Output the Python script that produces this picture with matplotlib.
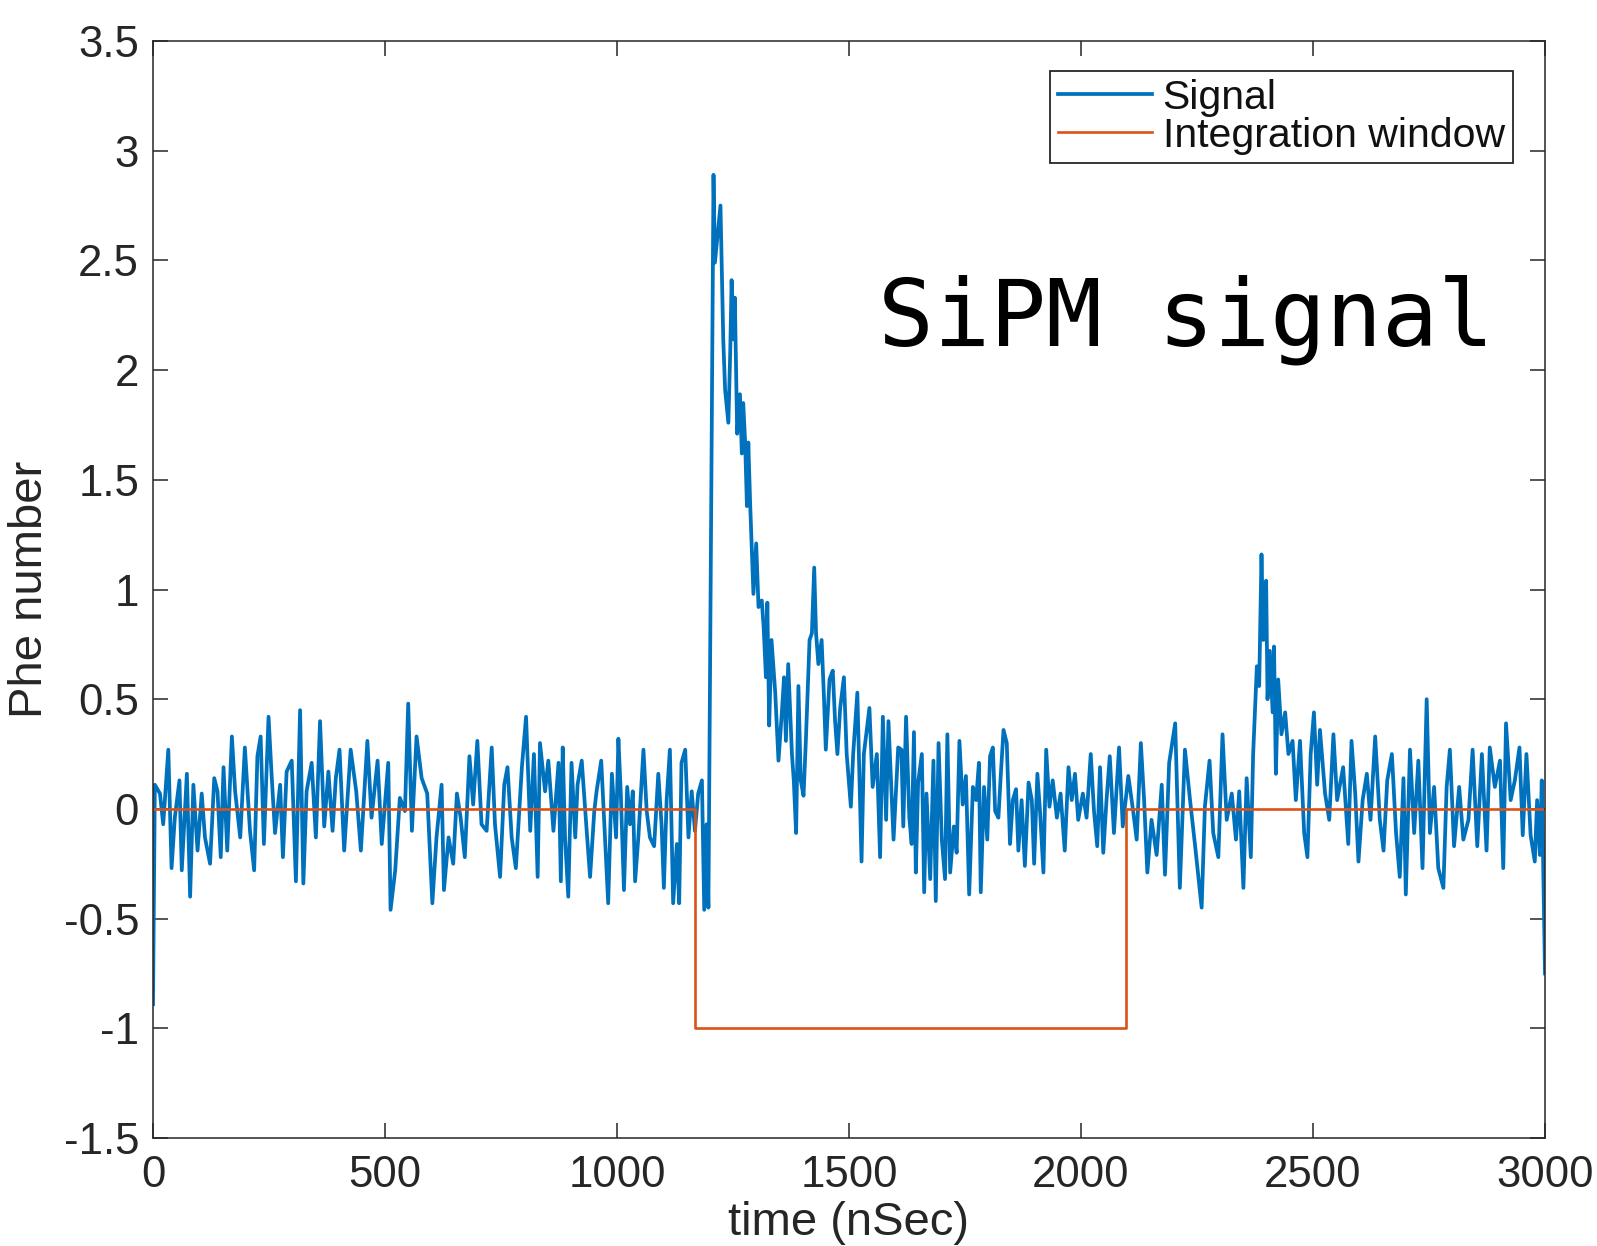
import numpy as np
import matplotlib
matplotlib.use('Agg')
import matplotlib.pyplot as plt

# signal trace (time in nSec, Phe number)
time_a = [0, 4, 15, 22, 33, 40, 47, 57, 62, 73, 80, 87, 96, 105, 112, 123, 132, 139, 146, 152,
          160, 170, 177, 188, 198, 209, 218, 225, 232, 239, 249, 256, 263, 274, 280, 288, 299, 308, 317, 324,
          331, 342, 351, 360, 369, 378, 387, 394, 402, 412, 426, 438, 448, 462, 471, 484, 493, 507, 512, 522,
          532, 543, 550, 558, 568, 579, 591, 602, 611, 622, 627, 637, 647, 655, 663, 672, 682, 690, 699, 708,
          719, 730, 737, 748, 757, 764, 773, 782, 795, 804, 813, 821, 829, 834, 845, 852, 863]
phe_a = [-0.89, 0.11, 0.07, -0.07, 0.27, -0.27, -0.04, 0.13, -0.28, 0.16, -0.40, 0.11, -0.19, 0.07, -0.13, -0.25, 0.14, 0.08, -0.22, 0.19,
         -0.19, 0.33, 0.08, -0.13, 0.28, -0.10, -0.28, 0.24, 0.33, -0.16, 0.42, 0.14, -0.11, 0.11, -0.22, 0.17, 0.22, -0.33, 0.45, -0.34,
         0.08, 0.21, -0.13, 0.40, -0.08, 0.17, -0.10, 0.14, 0.27, -0.19, 0.27, 0.08, -0.19, 0.31, -0.04, 0.22, -0.16, 0.21, -0.46, -0.28,
         0.05, -0.01, 0.48, -0.10, 0.33, 0.14, 0.07, -0.43, -0.13, 0.11, -0.37, -0.13, -0.25, 0.07, -0.04, -0.22, 0.24, 0.02, 0.31, -0.07,
         -0.10, 0.28, -0.07, -0.31, 0.11, 0.19, -0.13, -0.27, 0.19, 0.42, -0.10, 0.25, -0.31, 0.30, 0.08, 0.22, -0.10]

time_b = [874, 879, 883, 888, 895, 902, 910, 915, 924, 935, 942, 951, 956, 966, 972, 981, 989, 998, 1003, 1008,
          1015, 1022, 1028, 1034, 1039, 1046, 1057, 1064, 1071, 1080, 1089, 1096, 1101, 1107, 1114, 1121, 1129, 1134, 1139, 1147,
          1154, 1161, 1168, 1175, 1183, 1188, 1193, 1197]
phe_b = [0.21, -0.33, 0.28, -0.13, -0.40, 0.21, -0.13, 0.11, 0.22, -0.11, -0.31, -0.01, 0.08, 0.22, -0.04, -0.43, 0.16, -0.13, 0.32, 0.08,
         -0.37, 0.10, -0.07, 0.08, -0.33, -0.13, 0.27, -0.01, -0.13, -0.17, 0.16, -0.07, -0.36, 0.04, 0.27, -0.43, -0.16, -0.43, 0.21, 0.27,
         -0.13, 0.08, -0.10, 0.07, 0.13, -0.46, -0.07, -0.45]

# main pulse and its tail
time_c = [1208, 1211, 1218, 1223, 1229, 1233, 1240, 1244, 1247, 1251, 1254, 1259, 1265, 1269, 1272, 1276, 1280, 1283, 1287, 1290,
          1294, 1300, 1305, 1312, 1316, 1321, 1324, 1328, 1333, 1341, 1348, 1355, 1360, 1364, 1369, 1377, 1381, 1386, 1391, 1396,
          1402, 1407, 1415, 1420, 1425, 1429, 1434, 1441, 1446, 1450, 1458, 1465, 1470, 1475, 1481, 1489, 1495, 1504, 1509, 1518,
          1527, 1532, 1544, 1551, 1560, 1567, 1573, 1580, 1585, 1596, 1606]
phe_c = [2.89, 2.49, 2.64, 2.75, 2.14, 1.91, 1.76, 2.08, 2.41, 2.14, 2.33, 1.71, 1.89, 1.62, 1.85, 1.68, 1.38, 1.67, 1.39, 1.22,
         0.98, 1.21, 0.92, 0.95, 0.83, 0.60, 0.94, 0.38, 0.77, 0.53, 0.22, 0.43, 0.60, 0.31, 0.66, 0.25, 0.13, -0.11, 0.56, 0.13,
         0.06, 0.31, 0.77, 0.80, 1.10, 0.80, 0.66, 0.77, 0.51, 0.27, 0.59, 0.63, 0.40, 0.25, 0.46, 0.60, 0.25, 0.01, 0.25, 0.53,
         -0.24, 0.25, 0.46, 0.10, 0.25, -0.22, 0.42, -0.05, 0.40, -0.14, 0.28]

time_d = [1613, 1617, 1623, 1630, 1635, 1640, 1644, 1649, 1657, 1662, 1667, 1675, 1682, 1687, 1693, 1700, 1707, 1712, 1718, 1726,
          1732, 1738, 1745, 1752, 1759, 1767, 1774, 1780, 1784, 1791, 1798, 1804, 1810, 1815, 1822, 1827, 1833, 1840, 1847, 1853,
          1860, 1865, 1872, 1879, 1887, 1894, 1899, 1906, 1912, 1919, 1925, 1932, 1939, 1948, 1956, 1965, 1973, 1980, 1987, 1994,
          2004, 2012, 2021, 2028, 2035, 2041, 2048, 2055, 2062, 2071, 2082, 2090, 2102, 2113, 2120, 2129, 2136, 2143]
phe_d = [0.27, -0.08, 0.42, -0.04, -0.16, 0.35, -0.29, 0.12, 0.25, -0.38, 0.07, -0.32, 0.22, -0.42, 0.30, -0.14, -0.32, 0.34, -0.29, -0.08,
         -0.20, 0.31, 0.02, 0.15, -0.39, 0.10, 0.04, 0.21, -0.38, 0.10, -0.14, 0.24, 0.28, -0.01, -0.04, 0.15, 0.36, 0.30, -0.16, 0.04,
         0.09, -0.19, 0.04, -0.26, 0.12, 0.04, -0.25, 0.16, -0.02, -0.29, 0.27, 0.01, 0.13, -0.04, 0.07, -0.19, 0.19, 0.04, 0.16, -0.05,
         0.07, -0.04, 0.25, -0.01, -0.17, 0.19, -0.20, 0.04, 0.24, -0.11, 0.28, -0.08, 0.15, -0.02, -0.14, 0.30, 0.04, -0.29]

# second (afterpulse) bump and the end of the trace
time_e = [2152, 2163, 2174, 2181, 2190, 2203, 2213, 2224, 2235, 2246, 2260, 2267, 2277, 2285, 2296, 2305, 2314, 2325, 2334, 2341,
          2350, 2357, 2366, 2371, 2379, 2384, 2389, 2393, 2399, 2402, 2407, 2413, 2416, 2420, 2425, 2432, 2440, 2447, 2456, 2463,
          2472, 2481, 2488, 2495, 2502, 2509, 2515, 2526, 2535, 2544, 2552, 2565, 2576, 2583, 2591, 2598, 2607, 2616, 2624, 2634,
          2644, 2652, 2660, 2670, 2679, 2687, 2695, 2700, 2709, 2718, 2727, 2736, 2745, 2752, 2761, 2770, 2781, 2788, 2795, 2804,
          2815, 2824, 2835, 2844, 2854, 2864, 2874, 2881, 2892, 2903, 2910, 2916, 2926, 2935, 2945, 2952, 2960, 2969, 2978, 2983,
          2989, 2993, 2996, 3000]
phe_e = [-0.05, -0.21, 0.11, -0.30, 0.21, 0.39, -0.36, 0.27, 0.04, -0.17, -0.45, 0.01, 0.22, -0.11, -0.22, 0.34, -0.05, 0.07, -0.14, 0.08,
         -0.36, 0.14, -0.22, 0.25, 0.65, 0.56, 1.16, 0.77, 1.04, 0.50, 0.72, 0.44, 0.74, 0.16, 0.59, 0.34, 0.44, 0.25, 0.31, 0.04,
         0.31, -0.11, -0.22, 0.25, 0.44, 0.11, 0.36, 0.07, -0.05, 0.34, 0.04, 0.19, -0.16, 0.31, 0.07, -0.24, 0.04, 0.16, -0.05, 0.33,
         -0.05, -0.19, 0.13, 0.25, -0.11, -0.31, 0.14, -0.39, 0.27, -0.11, 0.22, -0.27, 0.50, -0.11, 0.10, -0.27, -0.36, 0.10, 0.27, -0.17,
         0.10, -0.14, -0.05, 0.27, -0.17, 0.25, -0.19, 0.28, 0.10, 0.22, -0.27, 0.39, 0.04, 0.13, 0.28, -0.12, 0.25, -0.12, -0.24, 0.04,
         -0.21, 0.13, -0.24, -0.75]

# integration window (step)
window_time = [0, 1168, 1168, 2098, 2098, 3000]
window_level = [0, 0, -1, -1, 0, 0]

x_ticks = [0, 500, 1000, 1500, 2000, 2500, 3000]
y_ticks = [-1.5, -1, -0.5, 0, 0.5, 1, 1.5, 2, 2.5, 3, 3.5]

BLUE = '#0072BD'
ORANGE = '#D95319'
AXIS_COLOR = '#262626'
FONT = 'Liberation Sans'
TICK_FONTSIZE = 31.5
LABEL_FONTSIZE = 34
LEGEND_FONTSIZE = 29.5
W, H = 1597, 1246


def fmt(v):
    return f'{v:g}'


def main():
    time = np.array(time_a + time_b + time_c + time_d + time_e, dtype=float)
    phe = np.array(phe_a + phe_b + phe_c + phe_d + phe_e)

    plt.rcParams['font.family'] = FONT
    fig = plt.figure(figsize=(W / 100, H / 100), dpi=100)
    ax = fig.add_axes([153 / W, 1 - 1138 / H, (1545 - 153) / W, (1138 - 41) / H])

    ax.plot(time, phe, color=BLUE, linewidth=2.7, label='Signal')
    ax.plot(window_time, window_level, color=ORANGE, linewidth=1.9, label='Integration window')

    ax.set_xlim(0, 3000)
    ax.set_ylim(-1.5, 3.5)
    ax.set_xticks(x_ticks)
    ax.set_xticklabels([fmt(v) for v in x_ticks])
    ax.set_yticks(y_ticks)
    ax.set_yticklabels([fmt(v) for v in y_ticks])

    ax.tick_params(direction='in', length=11, width=1.1, color=AXIS_COLOR,
                   labelcolor=AXIS_COLOR, labelsize=TICK_FONTSIZE,
                   top=True, right=True)
    ax.tick_params(axis='x', pad=12)
    ax.tick_params(axis='y', pad=10)
    for spine in ax.spines.values():
        spine.set_color(AXIS_COLOR)
        spine.set_linewidth(1.1)

    ax.set_xlabel('time (nSec)', fontsize=LABEL_FONTSIZE, color=AXIS_COLOR, labelpad=4)
    ax.set_ylabel('Phe number', fontsize=LABEL_FONTSIZE, color=AXIS_COLOR, labelpad=8)

    legend = ax.legend(loc='upper right', bbox_to_anchor=(0.977, 0.973),
                       fontsize=LEGEND_FONTSIZE, frameon=True, fancybox=False,
                       handlelength=2.3, handletextpad=0.25, labelspacing=0.0,
                       borderpad=0.2, borderaxespad=0)
    legend.get_frame().set_edgecolor(AXIS_COLOR)
    legend.get_frame().set_linewidth(1.3)
    legend.get_frame().set_alpha(1)
    for text in legend.get_texts():
        text.set_color('#111111')

    ax.text(1562, 2.11, 'SiPM signal', fontsize=67, family='DejaVu Sans Mono',
            color='black', ha='left', va='baseline')

    fig.savefig('out.png', dpi=100)
    plt.close(fig)


if __name__ == '__main__':
    main()
